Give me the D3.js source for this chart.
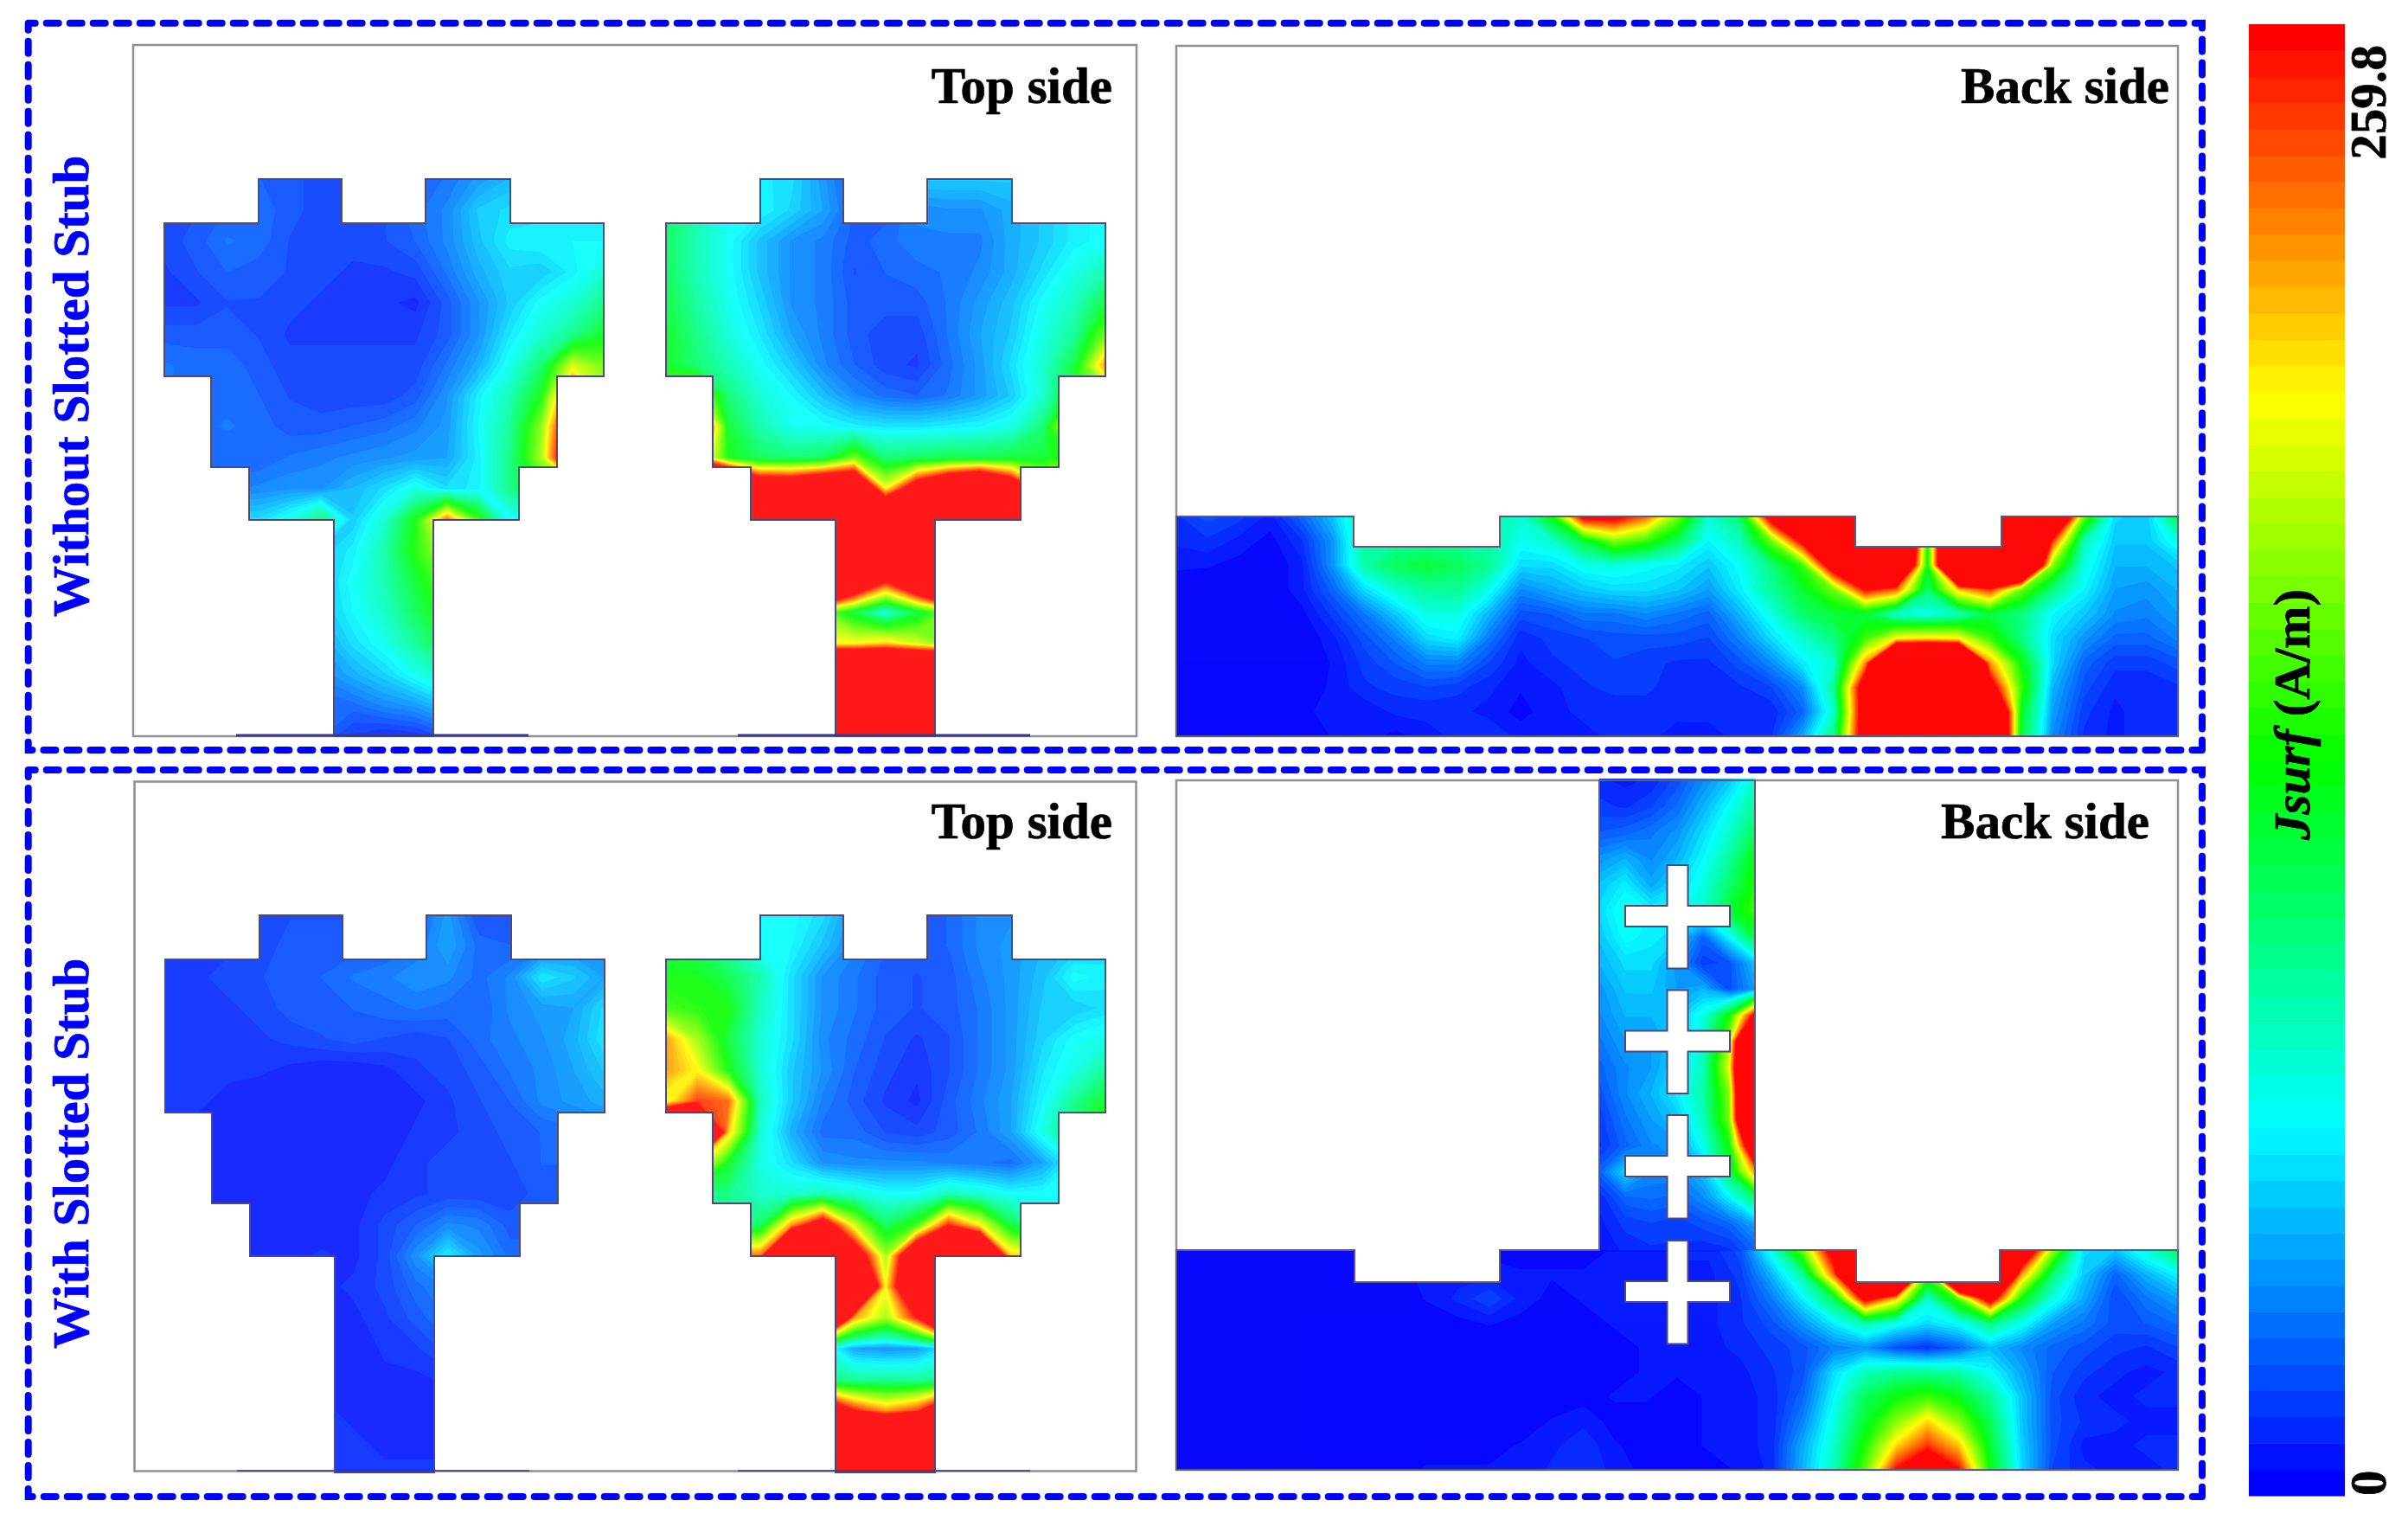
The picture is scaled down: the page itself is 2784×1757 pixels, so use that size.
<!DOCTYPE html>
<html>
<head>
<meta charset="utf-8">
<title>Jsurf</title>
<script src="https://cdn.jsdelivr.net/npm/d3@7.9.0/dist/d3.min.js"></script>
<style>
  html, body { margin: 0; background: #fff; }
  text { font-family: "Liberation Serif", serif; font-weight: bold; font-size: 59px; white-space: pre; stroke-width: 0.7px; }
</style>
</head>
<body>
<svg id="chart" width="2784" height="1757"></svg>
<script>
// surface current, % of the 259.8 A/m scale. >100 = saturated red
const topPatchNoStubLeft = [
  [7,7,7,9,8,6,6,7,9,11,15,18,18,18,18],
  [7,7,9,10,8,6,6,7,10,13,20,22,22,22,22],
  [6,8,11,10,7,6,6,7,9,13,19,24,25,25,25],
  [5,7,9,8,7,6,5,5,6,11,17,21,20,24,30],
  [5,5,7,7,6,5,5,4,3,8,14,20,26,30,38],
  [8,8,8,7,5,5,5,5,5,8,14,23,30,37,47],
  [11,10,10,8,6,6,6,6,6,11,17,27,40,70,60],
  [11,10,10,9,7,6,6,6,8,14,24,33,50,100,70],
  [10,10,11,10,8,8,9,10,12,15,25,36,62,120,80],
  [10,10,9,9,11,12,13,14,15,16,24,38,65,130,80],
  [12,12,12,13,14,14,18,22,28,22,24,38,50,60,60],
  [22,22,22,22,28,40,20,30,50,90,55,25,25,25,25],
  [20,20,20,20,20,20,24,34,52,68,68,68,68,68,68],
  [20,20,20,20,20,20,26,33,46,60,60,60,60,60,60],
  [19,19,19,19,19,19,25,31,42,56,56,56,56,56,56],
  [16,16,16,16,16,16,22,27,36,48,48,48,48,48,48],
  [13,13,13,13,13,13,17,21,27,34,34,34,34,34,34],
  [9,9,9,9,9,9,10,13,15,20,20,20,20,20,20],
  [9,9,9,9,9,9,5,3,4,8,8,8,8,8,8]
];
const topPatchNoStubRight = [
  [42,34,27,24,22,15,8,8,20,20,20,20,22,24,26],
  [42,34,27,25,21,16,9,8,13,14,14,17,20,24,26],
  [42,33,26,19,14,12,8,10,12,12,12,17,20,24,26],
  [43,33,26,19,14,12,7,9,10,11,13,17,22,28,34],
  [45,35,27,21,14,12,8,8,8,11,15,19,26,32,45],
  [48,38,29,23,16,12,8,6,6,11,16,20,28,36,60],
  [48,40,33,26,20,13,9,6,5,10,15,22,30,45,85],
  [60,70,40,30,25,19,13,10,9,11,15,20,30,52,60],
  [120,120,46,34,27,26,24,23,23,24,25,28,40,85,85],
  [90,90,50,42,40,42,60,40,42,44,44,46,46,55,55],
  [200,200,200,135,135,150,150,75,120,150,170,130,80,70,70],
  [200,200,200,200,200,200,200,170,200,200,200,200,200,200,200],
  [200,200,200,200,200,200,200,180,200,200,200,200,200,200,200],
  [200,200,200,200,200,200,140,100,140,200,200,200,200,200,200],
  [62,62,62,62,62,62,45,28,45,62,62,62,62,62,62],
  [70,70,70,70,70,75,75,80,70,60,60,60,60,60,60],
  [200,200,200,200,200,200,200,200,200,200,200,200,200,200,200],
  [200,200,200,200,200,200,200,200,200,200,200,200,200,200,200],
  [200,200,200,200,200,200,200,200,200,200,200,200,200,200,200]
];
const topPatchStubLeft = [
  [5,5,5,6,7,7,7,8,9,15,7,7,8,8,8],
  [5,5,5,6,8,8,8,9,11,16,10,9,12,14,14],
  [5,5,6,7,8,9,11,12,14,13,10,13,23,20,16],
  [4,4,5,6,8,8,9,10,11,10,9,13,15,16,22],
  [4,4,4,5,6,7,8,7,6,7,10,12,14,17,23],
  [4,4,4,4,3,2,2,3,5,6,8,11,13,16,20],
  [4,4,3,2,2,2,2,2,3,5,7,9,13,15,17],
  [4,3,3,2,2,2,2,2,4,5,6,8,9,10,12],
  [3,3,3,2,2,2,2,3,5,6,6,7,9,9,9],
  [3,3,3,2,2,2,3,4,5,6,6,6,8,8,8],
  [3,3,3,3,2,2,3,6,9,13,12,8,8,8,8],
  [3,3,3,3,3,4,3,6,14,24,15,10,10,10,10],
  [3,3,3,3,3,3,4,6,10,13,13,13,13,13,13],
  [3,3,3,3,3,3,3,5,8,11,11,11,11,11,11],
  [2,2,2,2,2,2,2,4,5,8,8,8,8,8,8],
  [2,2,2,2,2,2,2,3,3,4,4,4,4,4,4],
  [4,4,4,4,4,4,3,2,2,2,2,2,2,2,2],
  [4,4,4,4,4,4,4,3,3,3,3,3,3,3,3],
  [4,4,4,4,4,4,4,4,4,4,4,4,4,4,4]
];
const topPatchStubRight = [
  [45,40,34,26,26,22,14,10,8,9,13,14,16,18,20],
  [44,42,34,26,25,19,13,9,8,9,13,15,18,20,22],
  [50,50,44,34,22,14,11,8,7,8,12,15,19,26,24],
  [55,52,50,32,22,14,11,8,7,8,11,15,20,20,22],
  [85,65,45,30,22,13,10,7,5,7,11,15,21,26,28],
  [85,75,50,30,20,14,9,6,4,7,11,15,23,28,36],
  [72,95,90,32,20,12,8,5,3,8,12,16,25,37,48],
  [200,200,80,30,17,10,10,7,6,8,11,16,28,42,50],
  [80,80,48,28,22,14,13,13,13,12,11,10,16,26,30],
  [40,40,38,30,30,33,30,26,26,33,30,26,26,26,28],
  [36,36,36,42,85,115,70,42,55,98,75,45,30,30,30],
  [90,90,90,90,200,200,120,65,140,200,170,80,80,80,80],
  [200,200,200,200,200,200,180,75,150,200,200,200,200,200,200],
  [200,200,200,200,200,200,85,65,100,200,200,200,200,200,200],
  [30,30,30,30,30,30,16,14,15,25,25,25,25,25,25],
  [38,38,38,38,38,38,36,36,36,38,38,38,38,38,38],
  [140,140,140,140,140,140,100,85,95,140,140,140,140,140,140],
  [200,200,200,200,200,200,200,200,200,200,200,200,200,200,200],
  [200,200,200,200,200,200,200,200,200,200,200,200,200,200,200]
];
const backGroundNoStub = [
  [5,8,6,3,10,20,35,35,35,35,35,30,50,105,105,90,62,30,40,110,200,200,200,200,60,200,200,200,160,60,22,20,45],
  [4,5,3,1,5,15,35,35,35,35,35,27,30,45,62,55,42,25,32,60,105,200,200,200,50,200,200,200,95,33,20,20,28],
  [2,2,1,0,3,15,34,42,45,42,36,22,22,27,28,26,24,20,26,38,55,115,200,170,50,200,200,180,62,28,18,18,20],
  [1,0,0,0,3,10,22,30,35,36,27,14,17,20,22,22,20,16,24,35,46,60,100,90,40,80,95,60,38,25,16,15,18],
  [0,0,0,0,1,6,12,20,28,28,18,8,9,12,12,14,12,10,18,28,40,45,45,30,27,32,44,38,25,20,14,13,16],
  [0,0,0,0,0,3,8,13,22,24,12,4,6,7,8,8,8,7,13,22,30,38,55,75,78,75,55,38,22,15,10,10,13],
  [0,0,0,0,0,2,6,9,13,13,7,3,5,6,7,6,5,5,8,14,24,30,85,200,200,200,85,50,22,10,6,6,8],
  [0,0,0,0,1,2,5,6,7,6,4,2,3,5,6,6,4,4,5,7,14,36,115,200,200,200,110,55,18,8,4,4,5],
  [1,1,1,1,1,3,2,4,4,4,3,1,3,4,4,4,4,4,4,4,10,30,115,200,200,200,170,48,16,6,3,5,5],
  [0,0,0,0,0,2,3,1,3,4,5,3,3,3,4,4,3,3,4,5,17,38,115,200,200,200,180,45,14,5,3,5,5]
];
const backStubColumn = [
  [4,3,4,8,14,20,30],
  [6,5,7,11,18,26,36],
  [9,10,12,15,22,30,42],
  [15,18,14,18,25,35,50],
  [20,24,17,22,28,40,52],
  [22,28,25,25,30,45,55],
  [20,26,24,22,10,25,45],
  [18,22,22,15,6,8,20],
  [15,20,20,16,18,8,16],
  [14,18,18,20,28,50,105],
  [12,16,16,20,30,65,200],
  [10,14,16,22,32,72,200],
  [8,14,18,24,34,62,200],
  [6,12,16,20,32,60,200],
  [5,10,14,15,27,50,130],
  [10,22,14,14,20,42,85],
  [4,10,11,10,14,24,40],
  [3,6,7,6,8,10,17],
  [2,4,5,5,4,5,10]
];
const backGroundStub = [
  [0,0,0,0,0,0,0,0,1,1,1,1,1,1,2,3,4,4,8,28,60,110,110,110,110,110,130,130,65,22,20,30,42],
  [0,1,0,0,0,0,0,0,3,3,3,2,2,2,2,2,3,3,6,18,35,90,200,200,60,200,200,85,40,20,10,18,25],
  [0,0,0,0,0,0,0,0,2,4,7,3,1,2,2,2,2,3,5,12,24,42,105,80,30,58,110,50,28,17,7,12,16],
  [0,0,0,0,0,0,0,0,0,1,2,1,1,1,2,2,2,3,5,8,15,24,34,27,22,26,38,27,16,12,8,9,11],
  [0,0,0,0,0,0,0,0,0,0,0,0,0,1,1,2,2,3,4,6,8,13,15,8,5,10,19,14,10,8,6,5,7],
  [0,0,0,0,0,0,0,0,0,0,0,0,0,1,1,2,2,3,3,5,8,22,32,36,36,34,26,17,9,6,4,3,4],
  [0,0,0,0,0,0,0,0,0,0,0,0,0,1,2,2,1,2,3,4,10,25,42,50,55,48,36,20,8,4,3,4,4],
  [0,0,0,0,0,0,0,0,1,1,0,0,2,3,1,1,1,2,3,4,13,28,46,62,78,62,42,20,8,5,4,3,3],
  [0,0,0,0,0,0,0,1,1,1,1,2,3,5,2,1,1,2,3,4,17,30,52,78,95,80,46,21,8,3,3,4,4],
  [0,0,0,0,0,0,0,1,2,2,2,2,4,5,3,1,1,1,2,4,18,32,58,100,120,100,50,22,7,4,3,3,4]
];
const tickLabels = ['0', '259.8'];
const unitLabel = ' (A/m)';
const bandCount = 56;

// patch outline, feed at the bottom, same copper for all four top side patches
const patchOutline = [[0,51],[109,51],[109,0],[205,0],[205,51],[302,51],[302,0],[400,0],[400,51],[508,51],[508,228],[454,228],[454,333],[410,333],[410,394],[311,394],[311,644],[196,644],[196,394],[98,394],[98,333],[54,333],[54,228],[0,228]];
const groundNoStub = [[0,0],[205,0],[205,35],[374,35],[374,0],[785,0],[785,35],[954,35],[954,0],[1158,0],[1158,254],[0,254]];
const groundStub = [[0,0],[206,0],[206,37],[374,37],[374,0],[489,0],[489,-543],[669,-543],[669,0],[786,0],[786,37],[952,37],[952,0],[1158,0],[1158,254],[0,254]];
const crossRows = [1000, 1144.5, 1289, 1434];

const svg = d3.select('#chart');
const defs = svg.append('defs');

const ramp = d3.scaleLinear()
  .domain([0, 0.25, 0.5, 0.75, 1])
  .range(['#0000ff', '#00ffff', '#00ff00', '#ffff00', '#ff0000']);
const bandColor = (i) => ramp(i / (bandCount - 1));
const levels = d3.range(bandCount).map((i) => (i * 100) / bandCount);

let clipCount = 0;

function drawField(values, box, outline, tint) {
  const rows = values.length;
  const cols = values[0].length;
  const x = d3.scaleLinear([0, cols - 1], [box.x0, box.x1]);
  const y = d3.scaleLinear([0, rows - 1], [box.y0, box.y1]);
  const line = d3.line().x((d) => box.ox + d[0]).y((d) => box.oy + d[1]);

  const id = `clip${clipCount++}`;
  defs.append('clipPath').attr('id', id).append('path').attr('d', line(outline) + 'Z');

  const contours = d3.contours().size([cols, rows]).thresholds(levels)(values.flat());
  const path = d3.geoPath(d3.geoTransform({
    point(a, b) { this.stream.point(x(a - 0.5), y(b - 0.5)); }
  }));

  svg.append('g')
    .attr('clip-path', `url(#${id})`)
    .attr('opacity', tint)
    .selectAll('path')
    .data(contours)
    .join('path')
    .attr('d', path)
    .attr('fill', (d, i) => bandColor(i));

  return line;
}

function drawText(label, transform, color, anchor) {
  return svg.append('text')
    .attr('transform', transform)
    .attr('text-anchor', anchor)
    .attr('fill', color)
    .attr('stroke', color)
    .text(label);
}

function drawPanelBox(x0, y0, x1, y1) {
  svg.append('rect')
    .attr('x', x0).attr('y', y0).attr('width', x1 - x0).attr('height', y1 - y0)
    .attr('fill', 'none').attr('stroke', '#8f8f8f').attr('stroke-width', 2.5);
}

function drawFrame(x0, y0, x1, y1) {
  const p = d3.path();
  p.moveTo(x0, y0); p.lineTo(x1, y0); p.lineTo(x1, y1);
  p.moveTo(x0, y0); p.lineTo(x0, y1); p.lineTo(x1, y1);
  svg.append('path')
    .attr('d', p.toString())
    .attr('fill', 'none').attr('stroke', '#0000ff').attr('stroke-width', 8)
    .attr('stroke-linecap', 'round')
    .attr('stroke-dasharray', '14 13').attr('stroke-dashoffset', 6);
}

function drawPatch(values, ox, oy, groundY, stroke) {
  const box = { x0: ox, x1: ox + 508, y0: oy, y1: oy + 644, ox, oy };
  const line = drawField(values, box, patchOutline, 0.9);
  svg.append('path').attr('d', line(patchOutline) + 'Z')
    .attr('fill', 'none').attr('stroke', '#4a4a80').attr('stroke-width', 2);
  // ground trace seen edge on under the feed
  svg.append('line')
    .attr('x1', ox + 83).attr('x2', ox + 421)
    .attr('y1', groundY).attr('y2', groundY)
    .attr('stroke', '#3a3a8c').attr('stroke-width', stroke);
}

drawPanelBox(154, 52, 1314, 851);
drawPanelBox(1360, 53, 2518, 851);
drawPanelBox(155.5, 903.5, 1313.5, 1700.5);
drawPanelBox(1360, 902, 2518, 1699);

drawPatch(topPatchNoStubLeft, 190, 207, 850, 3);
drawPatch(topPatchNoStubRight, 770, 207, 850, 3);
drawPatch(topPatchStubLeft, 191, 1058, 1700, 1.5);
drawPatch(topPatchStubRight, 770, 1058, 1700, 1.5);

// back side, no stub
let line = drawField(backGroundNoStub,
  { x0: 1360, x1: 2518, y0: 597, y1: 851, ox: 1360, oy: 597 }, groundNoStub, 0.97);
svg.append('path').attr('d', line(groundNoStub) + 'Z')
  .attr('fill', 'none').attr('stroke', '#5a5a80').attr('stroke-width', 2);

// back side, slotted stub: column above, ground below
const columnOutline = [[489, -545], [669, -545], [669, 2], [489, 2]];
drawField(backStubColumn,
  { x0: 1849, x1: 2029, y0: 902, y1: 1445, ox: 1360, oy: 1445 }, columnOutline, 0.97);
const groundOutline = [[0,0],[206,0],[206,37],[374,37],[374,0],[786,0],[786,37],[952,37],[952,0],[1158,0],[1158,254],[0,254]];
line = drawField(backGroundStub,
  { x0: 1360, x1: 2518, y0: 1445, y1: 1699, ox: 1360, oy: 1445 }, groundOutline, 0.97);
svg.append('path').attr('d', line(groundStub) + 'Z')
  .attr('fill', 'none').attr('stroke', '#5a5a80').attr('stroke-width', 2);

// cross shaped slots
crossRows.forEach((top) => {
  const c = 1939.5;
  const d = [
    [c - 12, top], [c + 12, top], [c + 12, top + 47], [c + 60.5, top + 47], [c + 60.5, top + 71],
    [c + 12, top + 71], [c + 12, top + 119.5], [c - 12, top + 119.5], [c - 12, top + 71],
    [c - 60.5, top + 71], [c - 60.5, top + 47], [c - 12, top + 47]
  ];
  svg.append('path').attr('d', d3.line()(d) + 'Z')
    .attr('fill', '#fff').attr('stroke', '#4a4a80').attr('stroke-width', 2);
});

drawText('Top side', 'translate(1286,119)', '#000', 'end');
drawText('Back side', 'translate(2508,119)', '#000', 'end');
drawText('Top side', 'translate(1286,969)', '#000', 'end');
drawText('Back side', 'translate(2485,969)', '#000', 'end');

drawFrame(32.7, 26.7, 2546, 867);
drawFrame(32.7, 890, 2546, 1730);

drawText('Without Slotted Stub', 'translate(102,713) rotate(-90)', '#0000ff', 'start');
drawText('With Slotted Stub', 'translate(102,1559) rotate(-90)', '#0000ff', 'start');

// colour bar
const barScale = d3.scaleLinear([0, bandCount], [1729, 28]);
svg.append('g').selectAll('rect')
  .data(d3.range(bandCount))
  .join('rect')
  .attr('x', 2600).attr('width', 111)
  .attr('y', (d) => barScale(d + 1))
  .attr('height', (d) => barScale(d) - barScale(d + 1) + 0.5)
  .attr('fill', (d) => bandColor(d));

drawText(tickLabels[0], 'translate(2758,1729) rotate(-90)', '#000', 'start');
drawText(tickLabels[1], 'translate(2758,52) rotate(-90)', '#000', 'end');

const unit = drawText('', 'translate(2670,971) rotate(-90)', '#000', 'start');
unit.append('tspan').attr('font-style', 'italic').text('Jsurf');
unit.append('tspan').text(unitLabel);
</script>
</body>
</html>
